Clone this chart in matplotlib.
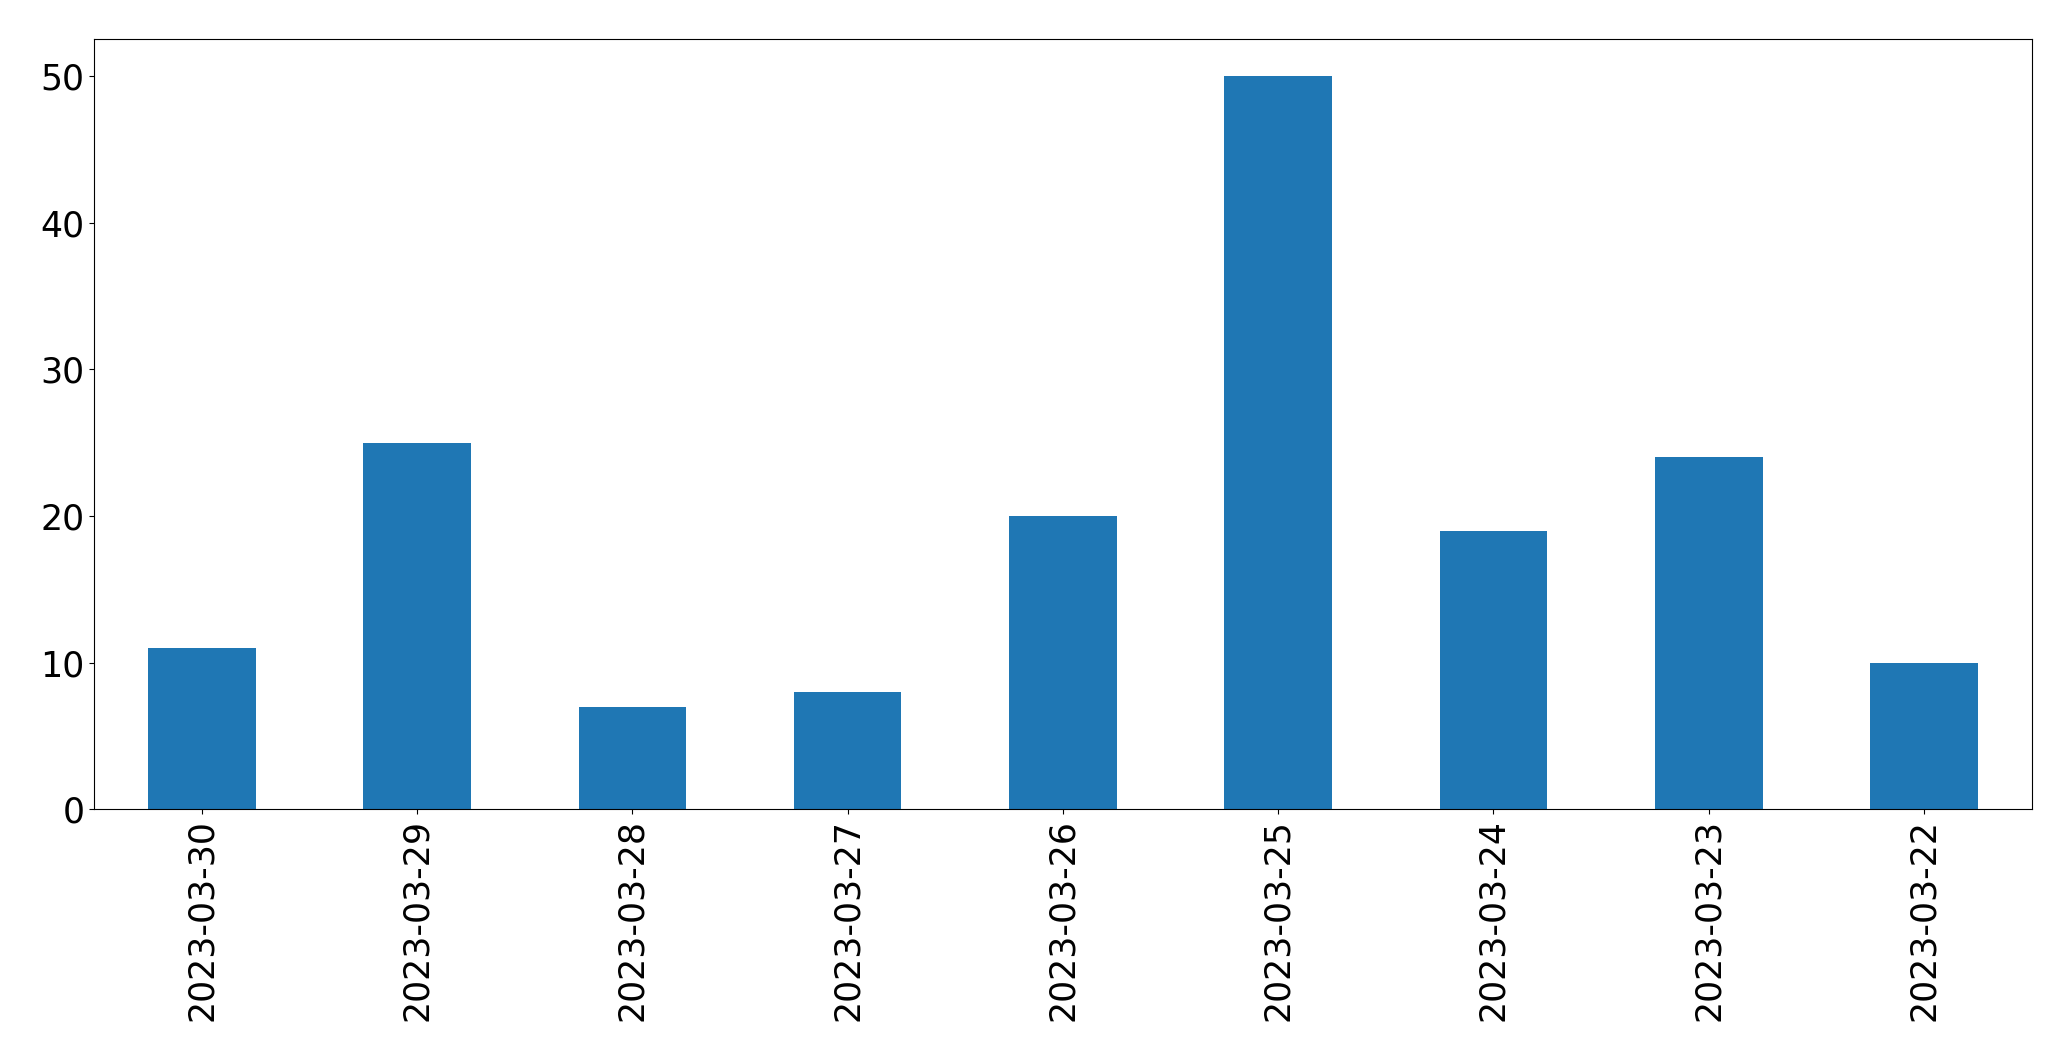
import matplotlib
matplotlib.use("Agg")
import matplotlib.pyplot as plt

dates = ["2023-03-30", "2023-03-29", "2023-03-28", "2023-03-27", "2023-03-26",
         "2023-03-25", "2023-03-24", "2023-03-23", "2023-03-22"]
counts = [11, 25, 7, 8, 20, 50, 19, 24, 10]

fig = plt.figure(figsize=(20.71, 10.61), dpi=100)
ax = fig.add_axes([0.0455, 0.2372, 0.9355, 0.7258])
x = list(range(len(dates)))
ax.bar(x, counts, width=0.5, color="#1f77b4")
ax.set_xlim(-0.5, len(dates) - 0.5)
ax.set_ylim(0, 52.5)
ax.set_xticks(x)
ax.set_xticklabels(dates, rotation=90)
ax.set_yticks([0, 10, 20, 30, 40, 50])
ax.tick_params(labelsize=25)
fig.savefig("out.png", dpi=100)
